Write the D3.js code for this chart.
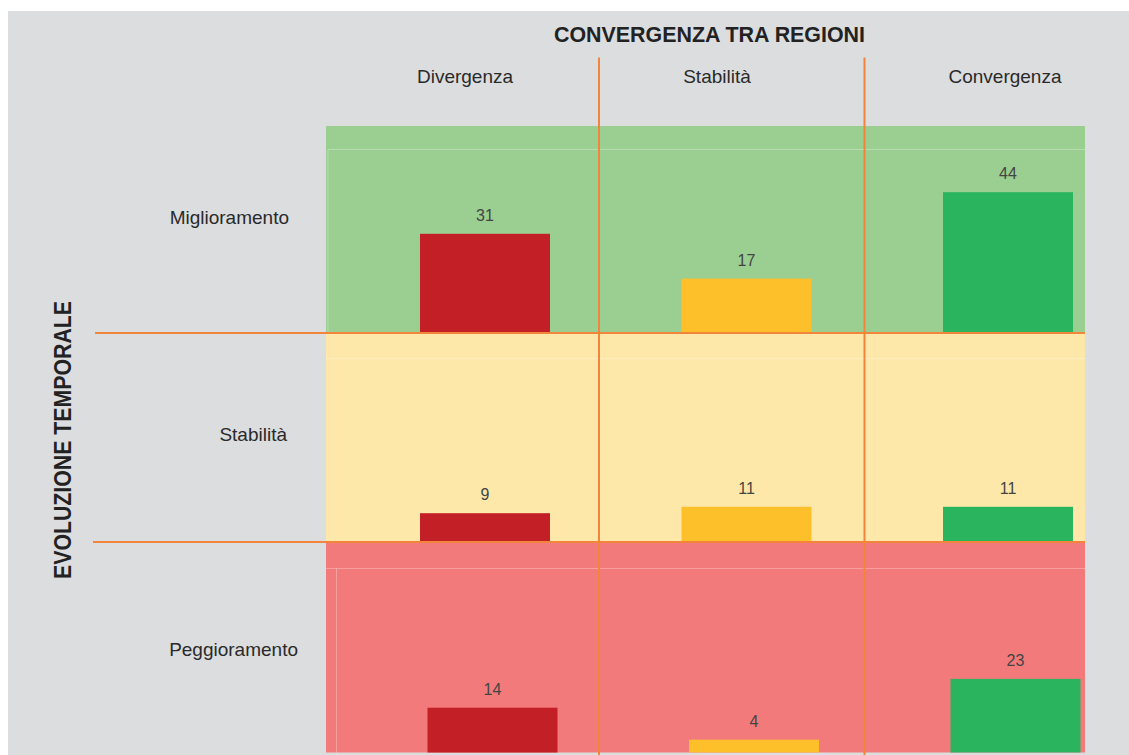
<!DOCTYPE html>
<html>
<head>
<meta charset="utf-8">
<script src="https://cdn.jsdelivr.net/npm/d3@7"></script>
<style>
  html, body { margin: 0; padding: 0; background: #ffffff; }
  svg { display: block; }
  text { font-family: "Liberation Sans", Arial, Helvetica, sans-serif; }
</style>
</head>
<body>
<svg id="chart" width="1129" height="755"></svg>
<script>
// Matrix of regions: temporal evolution (rows) vs convergence between regions (columns)
const rowLabels = ["Miglioramento", "Stabilità", "Peggioramento"];
const colLabels = ["Divergenza", "Stabilità", "Convergenza"];
const valuesMiglioramento = [31, 17, 44];
const valuesStabilita = [9, 11, 11];
const valuesPeggioramento = [14, 4, 23];
const titleTop = "CONVERGENZA TRA REGIONI";
const titleSide = "EVOLUZIONE TEMPORALE";

const seriesByRow = [valuesMiglioramento, valuesStabilita, valuesPeggioramento];

// Colours
const bandColors = ["#9bcf91", "#fde8a9", "#f27a7a"];
const barColors = ["#c21f26", "#fdbf2a", "#2bb45e"];
const lineColor = "#f2843c";
const bgColor = "#dcdddf";

const svg = d3.select("#chart");

// Layout
const gridLeft = 326, gridRight = 1085;
const rowEdges = [126, 333, 542, 752.5];
const colSplits = [599, 864.5];
const barWidth = 130;
const rowShift = [0, 0, 7.5];
const headerX = [465, 717, 1005];
const rowLabelEnd = [289, 287, 298];
const rowLabelBase = [223.5, 441, 656];

// Background panel
svg.append("rect")
  .attr("x", 8).attr("y", 11)
  .attr("width", 1129 - 8).attr("height", 755 - 11)
  .attr("fill", bgColor);

// Row bands
const rowIdx = d3.range(rowLabels.length);
svg.append("g").selectAll("rect")
  .data(rowIdx)
  .join("rect")
  .attr("x", gridLeft)
  .attr("y", i => rowEdges[i])
  .attr("width", gridRight - gridLeft)
  .attr("height", i => rowEdges[i + 1] - rowEdges[i])
  .attr("fill", i => bandColors[i]);

// Faint inner outlines inside the bands
const faint = svg.append("g")
  .attr("stroke", "#ffffff").attr("stroke-opacity", 0.28).attr("stroke-width", 1).attr("fill", "none");
faint.append("path").attr("d", `M${gridLeft + 2},${rowEdges[1]} V149.5 H${gridRight}`);
faint.append("path").attr("d", `M${gridLeft},358.5 H${gridRight}`);
faint.append("path").attr("d", `M${gridLeft},568.5 H${gridRight}`);
faint.append("path").attr("d", `M336.5,${rowEdges[3]} V568.5`);

// Scales
const x = d3.scalePoint().domain(colLabels.map((d, i) => i)).range([485, 1008]);
const h = d3.scaleLinear().domain([0, 44]).range([0, 140.8]);

// Bars and value labels
const cells = [];
seriesByRow.forEach((vals, r) => vals.forEach((v, c) => cells.push({ r, c, v })));

const barsG = svg.append("g");
barsG.selectAll("rect")
  .data(cells)
  .join("rect")
  .attr("x", d => x(d.c) - barWidth / 2 + rowShift[d.r])
  .attr("y", d => rowEdges[d.r + 1] - h(d.v))
  .attr("width", barWidth)
  .attr("height", d => h(d.v))
  .attr("fill", d => barColors[d.c]);

barsG.selectAll("text")
  .data(cells)
  .join("text")
  .attr("x", d => x(d.c) + rowShift[d.r])
  .attr("y", d => rowEdges[d.r + 1] - h(d.v) - 13)
  .attr("text-anchor", "middle")
  .attr("font-size", 16)
  .attr("fill", "#444444")
  .text(d => d.v);

// Orange divider lines
const lines = svg.append("g").attr("stroke", lineColor).attr("stroke-width", 2);
lines.selectAll("line.v")
  .data(colSplits)
  .join("line")
  .attr("class", "v")
  .attr("x1", d => d).attr("x2", d => d)
  .attr("y1", 57.5).attr("y2", 755);
lines.append("line").attr("x1", 95).attr("x2", gridRight).attr("y1", rowEdges[1]).attr("y2", rowEdges[1]);
lines.append("line").attr("x1", 93).attr("x2", gridRight).attr("y1", rowEdges[2]).attr("y2", rowEdges[2]);

// Column headers
svg.append("g").selectAll("text")
  .data(colLabels)
  .join("text")
  .attr("x", (d, i) => headerX[i])
  .attr("y", 83.3)
  .attr("text-anchor", "middle")
  .attr("font-size", 19)
  .attr("fill", "#2a2a2a")
  .text(d => d);

// Row labels
svg.append("g").selectAll("text")
  .data(rowLabels)
  .join("text")
  .attr("x", (d, i) => rowLabelEnd[i])
  .attr("y", (d, i) => rowLabelBase[i])
  .attr("text-anchor", "end")
  .attr("font-size", 19)
  .attr("fill", "#2a2a2a")
  .text(d => d);

// Titles
svg.append("text")
  .attr("x", 709.5).attr("y", 41.7)
  .attr("text-anchor", "middle")
  .attr("font-size", 21.4)
  .attr("font-weight", "bold")
  .attr("fill", "#222222")
  .text(titleTop);

svg.append("text")
  .attr("transform", "translate(70.5,440) rotate(-90) scale(1,1.12)")
  .attr("text-anchor", "middle")
  .attr("font-size", 21.3)
  .attr("font-weight", "bold")
  .attr("fill", "#222222")
  .text(titleSide);
</script>
</body>
</html>
